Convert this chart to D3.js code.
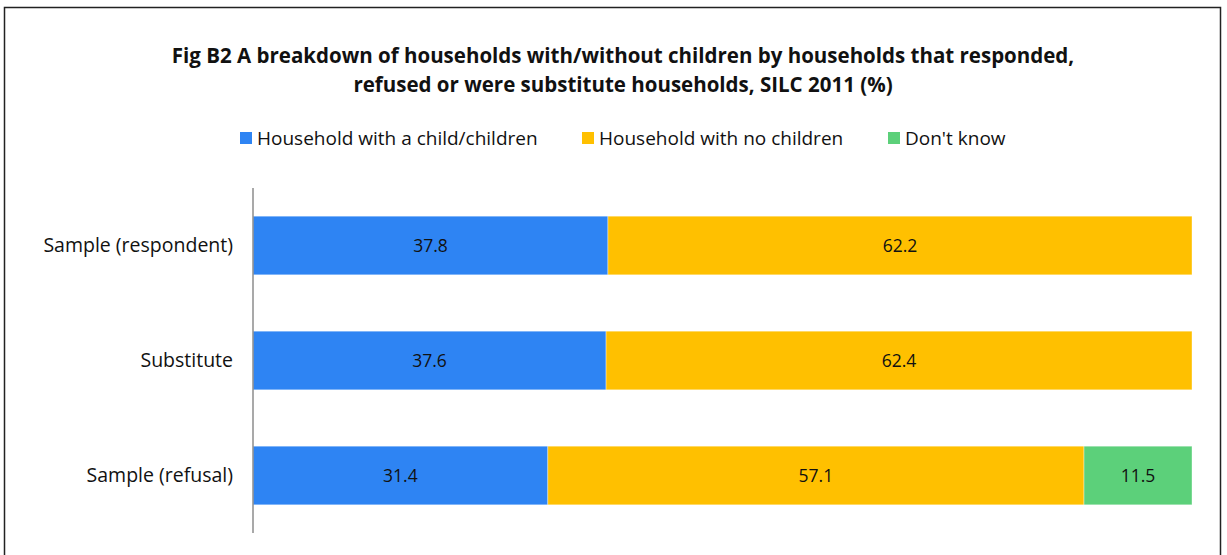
<!DOCTYPE html>
<html>
<head>
<meta charset="utf-8">
<script src="https://cdn.jsdelivr.net/npm/d3@7"></script>
<style>
  html, body { margin: 0; padding: 0; background: #fff; }
  svg { display: block; font-family: "Open Sans", Lato, sans-serif; }
</style>
</head>
<body>
<svg id="chart" width="1227" height="555"></svg>
<script>
// Household composition by response status, SILC 2011 (%)
const categories = ["Sample (respondent)", "Substitute", "Sample (refusal)"];
const seriesNames = ["Household with a child/children", "Household with no children", "Don't know"];
const withChildren = [37.8, 37.6, 31.4];
const noChildren = [62.2, 62.4, 57.1];
const dontKnow = [0, 0, 11.5];
const seriesColors = ["#2E84F3", "#FFC000", "#5CD07A"];
const titleLines = [
  "Fig B2 A breakdown of households with/without children by households that responded,",
  "refused or were substitute households, SILC 2011 (%)"
];

const svg = d3.select("#chart");

// outer frame
svg.append("rect")
  .attr("x", 4.5).attr("y", 7.5)
  .attr("width", 1216).attr("height", 560)
  .attr("fill", "none").attr("stroke", "#222").attr("stroke-width", 1.5);

// title
const title = svg.append("text")
  .attr("text-anchor", "middle")
  .attr("font-weight", "bold")
  .attr("font-size", 20.5)
  .attr("fill", "#111");
titleLines.forEach((t, i) => {
  title.append("tspan").attr("x", 623).attr("y", 63 + i * 29).text(t);
});

// stacked data
const rows = categories.map((c, i) => ({
  category: c,
  values: [withChildren[i], noChildren[i], dontKnow[i]]
}));
const stack = d3.stack()
  .keys([0, 1, 2])
  .value((d, k) => d.values[k]);
const layers = stack(rows);

const x = d3.scaleLinear().domain([0, 100]).range([253, 1192]);
const y = d3.scaleBand().domain(categories).range([188, 533]).paddingInner(0.49).paddingOuter(0.245);

// bars
layers.forEach((layer, k) => {
  const g = svg.append("g");
  g.selectAll("rect")
    .data(layer.filter(d => d[1] - d[0] > 0))
    .join("rect")
    .attr("x", d => x(d[0]))
    .attr("y", d => y(d.data.category))
    .attr("width", d => x(d[1]) - x(d[0]))
    .attr("height", y.bandwidth())
    .attr("fill", seriesColors[k])
    .attr("stroke", "#fff")
    .attr("stroke-opacity", 0.5)
    .attr("stroke-width", 0.75);
  g.selectAll("text")
    .data(layer.filter(d => d[1] - d[0] > 0))
    .join("text")
    .attr("x", d => (x(d[0]) + x(d[1])) / 2)
    .attr("y", d => y(d.data.category) + y.bandwidth() / 2)
    .attr("dy", "0.35em")
    .attr("text-anchor", "middle")
    .attr("font-size", 17.5)
    .attr("fill", "#111")
    .text(d => (d[1] - d[0]).toFixed(1));
});

// category axis
const axis = d3.axisLeft(y).tickSize(0).tickPadding(20);
const ag = svg.append("g").attr("transform", "translate(253,0)").call(axis);
ag.select(".domain").attr("stroke", "#8c8c8c").attr("stroke-width", 1.5)
  .attr("d", "M0,188V533");
ag.selectAll(".tick text").attr("font-size", 19.5).attr("fill", "#111")
  .attr("font-family", "'Open Sans', Lato, sans-serif");

// legend
const legendX = [240, 582, 888];
const legend = svg.append("g");
seriesNames.forEach((name, k) => {
  legend.append("rect")
    .attr("x", legendX[k]).attr("y", 132)
    .attr("width", 12).attr("height", 12)
    .attr("fill", seriesColors[k]);
  legend.append("text")
    .attr("x", legendX[k] + 17).attr("y", 138)
    .attr("dy", "0.35em")
    .attr("font-size", 19)
    .attr("fill", "#111")
    .text(name);
});
</script>
</body>
</html>
